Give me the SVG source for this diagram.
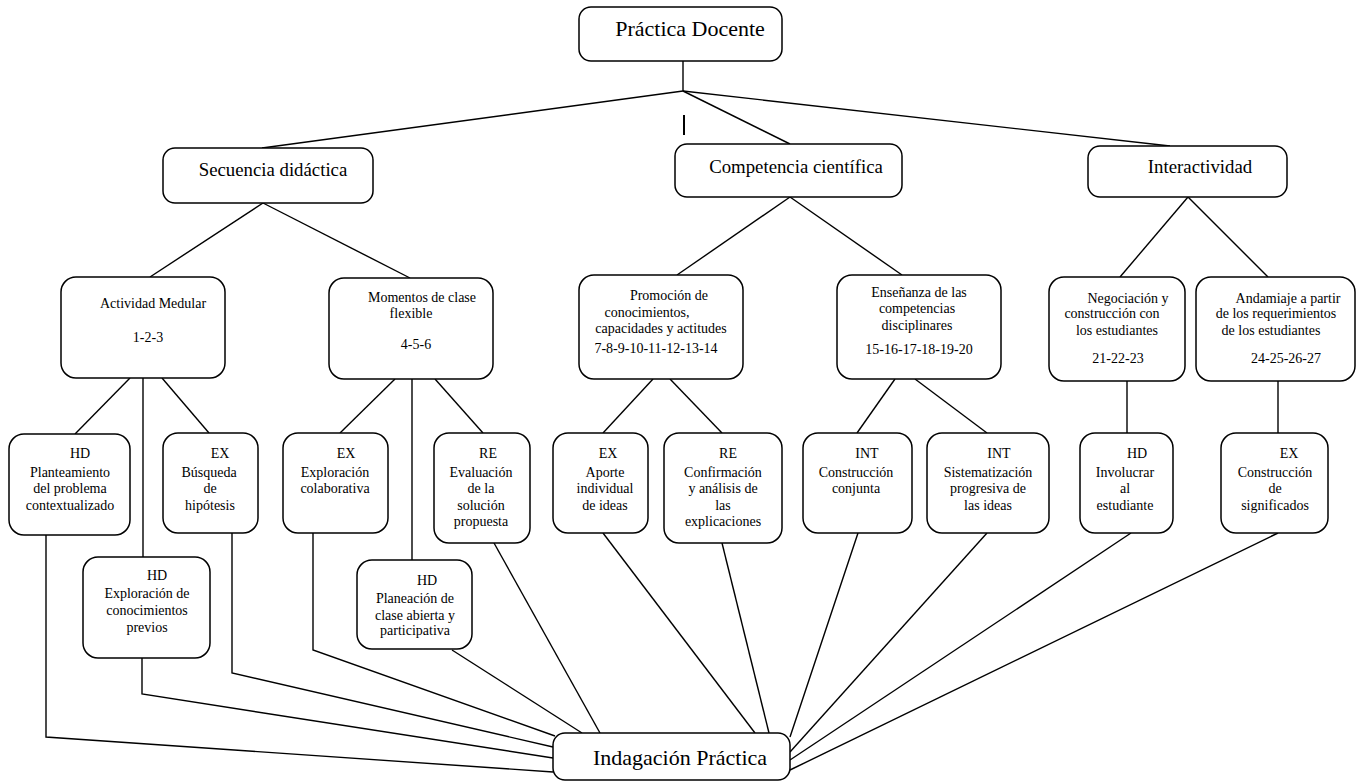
<svg xmlns="http://www.w3.org/2000/svg" width="1361" height="782" viewBox="0 0 1361 782">
<style>
.box{fill:#fff;stroke:#000;stroke-width:1.5}
.ln{fill:none;stroke:#000;stroke-width:1.4}
text{font-family:"Liberation Serif","DejaVu Serif",serif;fill:#000;text-anchor:middle}
.t1{font-size:22px}
.t2{font-size:18.8px}
.t3{font-size:14px}
.t4{font-size:14px}
.t5{font-size:22px}
</style>
<rect width="1361" height="782" fill="#fff"/>
<g id="connectors">
<line class="ln" x1="683" y1="61" x2="683" y2="91"/>
<line class="ln" x1="683" y1="91" x2="262" y2="148"/>
<line class="ln" x1="683" y1="91" x2="790" y2="144"/>
<line class="ln" x1="683" y1="91" x2="1170" y2="146"/>
<line x1="684" y1="115" x2="684" y2="135" stroke="#000" stroke-width="2"/>
<line class="ln" x1="263" y1="203" x2="150" y2="277"/>
<line class="ln" x1="263" y1="203" x2="410" y2="278"/>
<line class="ln" x1="790" y1="197" x2="677" y2="275"/>
<line class="ln" x1="790" y1="197" x2="902" y2="275"/>
<line class="ln" x1="1188" y1="197" x2="1120" y2="277"/>
<line class="ln" x1="1188" y1="197" x2="1268" y2="277"/>
<line class="ln" x1="130" y1="378" x2="75" y2="434"/>
<line class="ln" x1="143" y1="378" x2="143" y2="557"/>
<line class="ln" x1="162" y1="378" x2="209" y2="433"/>
<line class="ln" x1="395" y1="379" x2="340" y2="433"/>
<line class="ln" x1="412" y1="379" x2="412" y2="560"/>
<line class="ln" x1="435" y1="379" x2="483" y2="433"/>
<line class="ln" x1="653" y1="379" x2="603" y2="433"/>
<line class="ln" x1="670" y1="379" x2="722" y2="433"/>
<line class="ln" x1="895" y1="379" x2="857" y2="433"/>
<line class="ln" x1="915" y1="379" x2="987" y2="433"/>
<line class="ln" x1="1127" y1="381" x2="1127" y2="433"/>
<line class="ln" x1="1278" y1="381" x2="1278" y2="433"/>
<polyline class="ln" points="46,535 46,737 553,772"/>
<polyline class="ln" points="142,658 142,694 553,758"/>
<polyline class="ln" points="232,533 232,673 553,747"/>
<polyline class="ln" points="313,533 313,650 555,736"/>
<line class="ln" x1="452" y1="650" x2="582" y2="733"/>
<line class="ln" x1="494" y1="543" x2="600" y2="733"/>
<line class="ln" x1="603" y1="533" x2="755" y2="733"/>
<line class="ln" x1="722" y1="543" x2="769" y2="733"/>
<line class="ln" x1="858" y1="533" x2="790" y2="737"/>
<line class="ln" x1="987" y1="533" x2="790" y2="752"/>
<line class="ln" x1="1131" y1="533" x2="790" y2="760"/>
<line class="ln" x1="1278" y1="533" x2="790" y2="770"/>
</g>
<g id="n_practica"><rect class="box" x="579" y="7" width="203" height="54" rx="12"/><text class="t1" x="690" y="36">Práctica Docente</text></g>
<g id="n_secuencia"><rect class="box" x="163" y="148" width="210" height="55" rx="12"/><text class="t2" x="273" y="176">Secuencia didáctica</text></g>
<g id="n_competencia"><rect class="box" x="675" y="144" width="227" height="53" rx="12"/><text class="t2" x="796" y="173">Competencia científica</text></g>
<g id="n_interactividad"><rect class="box" x="1088" y="146" width="199" height="51" rx="12"/><text class="t2" x="1200" y="173">Interactividad</text></g>
<g id="n_actividad"><rect class="box" x="61" y="277" width="164" height="101" rx="15"/><text class="t3" x="153" y="308">Actividad Medular</text><text class="t3" x="148" y="342">1-2-3</text></g>
<g id="n_momentos"><rect class="box" x="329" y="278" width="164" height="101" rx="15"/><text class="t3" x="422" y="302">Momentos de clase</text><text class="t3" x="411" y="318">flexible</text><text class="t3" x="416" y="349">4-5-6</text></g>
<g id="n_promocion"><rect class="box" x="579" y="275" width="164" height="104" rx="15"/><text class="t3" x="669" y="300">Promoción de</text><text class="t3" x="647" y="317">conocimientos,</text><text class="t3" x="661" y="333">capacidades y actitudes</text><text class="t3" x="656" y="353">7-8-9-10-11-12-13-14</text></g>
<g id="n_ensenanza"><rect class="box" x="837" y="275" width="164" height="104" rx="15"/><text class="t3" x="919" y="297">Enseñanza de las</text><text class="t3" x="917" y="313">competencias</text><text class="t3" x="917" y="330">disciplinares</text><text class="t3" x="919" y="354">15-16-17-18-19-20</text></g>
<g id="n_negociacion"><rect class="box" x="1049" y="277" width="136" height="104" rx="15"/><text class="t3" x="1128" y="303">Negociación y</text><text class="t3" x="1112" y="318">construcción con</text><text class="t3" x="1117" y="335">los estudiantes</text><text class="t3" x="1118" y="363">21-22-23</text></g>
<g id="n_andamiaje"><rect class="box" x="1196" y="277" width="159" height="104" rx="15"/><text class="t3" x="1288" y="303">Andamiaje a partir</text><text class="t3" x="1276" y="318">de los requerimientos</text><text class="t3" x="1271" y="335">de los estudiantes</text><text class="t3" x="1286" y="363">24-25-26-27</text></g>
<g id="n_planteamiento"><rect class="box" x="9" y="434" width="121" height="101" rx="15"/><text class="t4" x="80" y="458">HD</text><text class="t4" x="70" y="477">Planteamiento</text><text class="t4" x="70" y="493">del problema</text><text class="t4" x="70" y="510">contextualizado</text></g>
<g id="n_busqueda"><rect class="box" x="163" y="433" width="95" height="100" rx="15"/><text class="t4" x="220" y="458">EX</text><text class="t4" x="209" y="477">Búsqueda</text><text class="t4" x="210" y="493">de</text><text class="t4" x="210" y="510">hipótesis</text></g>
<g id="n_exploracion_previos"><rect class="box" x="83" y="557" width="127" height="101" rx="15"/><text class="t4" x="157" y="580">HD</text><text class="t4" x="147" y="598">Exploración de</text><text class="t4" x="147" y="615">conocimientos</text><text class="t4" x="147" y="632">previos</text></g>
<g id="n_exploracion_colab"><rect class="box" x="283" y="433" width="105" height="100" rx="15"/><text class="t4" x="346" y="458">EX</text><text class="t4" x="335" y="477">Exploración</text><text class="t4" x="335" y="493">colaborativa</text></g>
<g id="n_evaluacion"><rect class="box" x="434" y="433" width="96" height="110" rx="15"/><text class="t4" x="488" y="458">RE</text><text class="t4" x="481" y="477">Evaluación</text><text class="t4" x="481" y="493">de la</text><text class="t4" x="481" y="510">solución</text><text class="t4" x="481" y="526">propuesta</text></g>
<g id="n_planeacion"><rect class="box" x="357" y="560" width="115" height="89" rx="15"/><text class="t4" x="427" y="585">HD</text><text class="t4" x="415" y="603">Planeación de</text><text class="t4" x="415" y="620">clase abierta y</text><text class="t4" x="415" y="635">participativa</text></g>
<g id="n_aporte"><rect class="box" x="553" y="433" width="95" height="100" rx="15"/><text class="t4" x="608" y="458">EX</text><text class="t4" x="605" y="477">Aporte</text><text class="t4" x="605" y="493">individual</text><text class="t4" x="605" y="510">de ideas</text></g>
<g id="n_confirmacion"><rect class="box" x="664" y="433" width="118" height="110" rx="15"/><text class="t4" x="728" y="458">RE</text><text class="t4" x="723" y="477">Confirmación</text><text class="t4" x="723" y="493">y análisis de</text><text class="t4" x="723" y="510">las</text><text class="t4" x="723" y="526">explicaciones</text></g>
<g id="n_construccion_conjunta"><rect class="box" x="803" y="433" width="109" height="100" rx="15"/><text class="t4" x="867" y="458">INT</text><text class="t4" x="856" y="477">Construcción</text><text class="t4" x="856" y="493">conjunta</text></g>
<g id="n_sistematizacion"><rect class="box" x="927" y="433" width="122" height="100" rx="15"/><text class="t4" x="999" y="458">INT</text><text class="t4" x="988" y="477">Sistematización</text><text class="t4" x="988" y="493">progresiva de</text><text class="t4" x="988" y="510">las ideas</text></g>
<g id="n_involucrar"><rect class="box" x="1080" y="433" width="93" height="100" rx="15"/><text class="t4" x="1137" y="458">HD</text><text class="t4" x="1125" y="477">Involucrar</text><text class="t4" x="1125" y="493">al</text><text class="t4" x="1125" y="510">estudiante</text></g>
<g id="n_significados"><rect class="box" x="1221" y="433" width="107" height="100" rx="15"/><text class="t4" x="1289" y="458">EX</text><text class="t4" x="1275" y="477">Construcción</text><text class="t4" x="1275" y="493">de</text><text class="t4" x="1275" y="510">significados</text></g>
<g id="n_indagacion"><rect class="box" x="553" y="733" width="237" height="47" rx="12"/><text class="t5" x="680" y="765">Indagación Práctica</text></g>
</svg>
